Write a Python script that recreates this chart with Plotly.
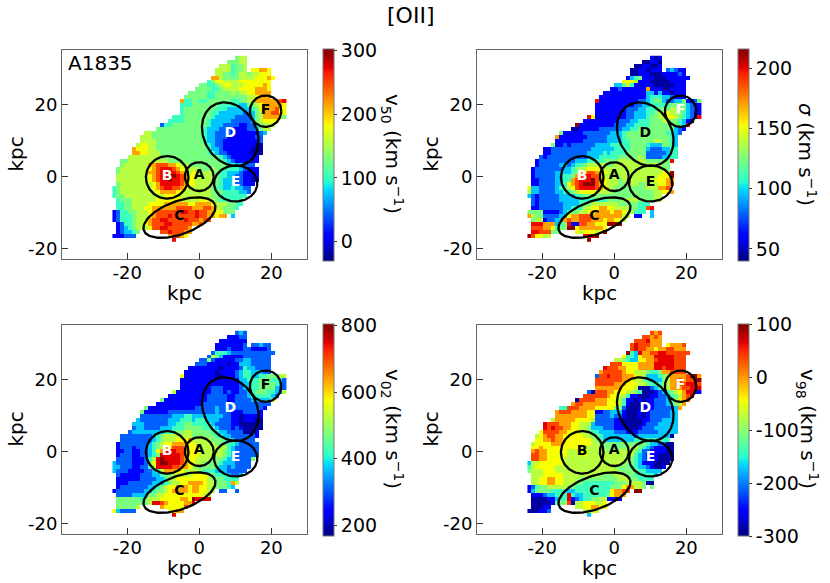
import numpy as np
import plotly.graph_objects as go

W, H = 830, 583

# cell codes -> value, one table per panel
codes = "0123456789RD"
v50_levels = [-20, 10, 43, 76, 102, 128, 155, 181, 214, 247, 270, 297]
sig_levels = [45, 61, 79, 96, 110, 124, 138, 152, 170, 187, 199, 213]
v02_levels = [186, 244, 307, 371, 422, 473, 524, 575, 639, 703, 748, 799]
v98_levels = [-288, -252, -212, -172, -140, -108, -76, -44, -4, 36, 64, 96]

# one string per map row, top row first ('.' = no data)
v50_rows = [
    ".......... .......... .......... .566",
    ".......... .......... .........5 5566",
    ".......... .......... .......666 4556",
    ".......... .......... ......6666 4556.77887",
    ".......... .......... ......6655 4566566777",
    ".......... .......... .....88655 5566667778 7",
    ".......... .......... ....457766 6677777777",
    ".......... .......... ..55445677 6667777787",
    ".......... .......... .555544566 6677778887",
    ".......... .........5 5555445555 6566778888",
    ".......... ........55 5555445555 5555667888",
    ".......... .......844 5544555555 4455668888 889R",
    ".......... .......444 5555555444 4433556788 8887",
    ".......... .......455 5555554443 3333345788 8977",
    ".......... .......455 5555544333 3332335688 9977",
    ".......... .....44455 5555543333 3222235688 8875",
    ".......... ....444455 5555433333 2222235677 77",
    ".......... ..24455555 5555433322 2211224566 6",
    ".......... .555555555 5554333222 1111223566",
    "........66 5555555555 5554332222 111111123.",
    ".......666 5555555555 5554332221 11111122..",
    ".......666 6555555555 5554332211 11111112..",
    "......6776 6555555555 5555432211 11111100..",
    ".....87776 6555555555 5555433211 11111000..",
    ".....88776 6655555555 5555443221 11111000..",
    "....666666 6655555555 5555555432 1111111...",
    "..55666666 6666555555 5555555543 2111111...",
    "..56666668 8999887665 5555555554 433222....",
    ".566666667 89RRR98766 6655565544 4432111...",
    ".566666668 89RRRR9876 7666665443 3321111...",
    ".666666667 89RRDDR987 7666665443 3221111...",
    ".666666667 89RRDRR987 7666665433 3221101...",
    ".566666666 78RRRRR987 7666665433 322111....",
    "4566666666 789RR99876 6666654433 43322.....",
    "4566666666 6788887766 6666655544 44332.....",
    "4556666666 6667777666 6666655444 4444......",
    ".455566666 6777777766 6677665444 444.......",
    ".445566667 7778888887 7888876665 544.......",
    ".445566677 8888889999 8889986655 54........",
    "1244556667 8999999RR9 9R99887755 5.........",
    "1244456667 8999R99999 9R99887 88. 3.........",
    "1244456668 99RR9999R9 99899.....",
    ".124456678 999RR99999 889.......",
    ".123456667 99RR999998 ..........",
    ".123345.... .99R99988. ..........",
    "111222.... ....89987. ..........",
    ".......... .....R....",
]

sig_rows = [
    ".......... .......... .......... .101",
    ".......... .......... .........0 0110",
    ".......... .......... .......001 1001",
    ".......... .......... ......0011 0111.23211",
    ".......... .......... ......0011 1000111121",
    ".......... .......... .....13451 1100011111 1",
    ".......... .......... ....777611 1000001111",
    ".......... .......... ..33564111 1100000111",
    ".......... .......... .112111111 8111001111",
    ".......... .........1 1111111111 3313110111",
    ".......... ........11 1111111111 3444332111",
    ".......... .......R11 1111111122 3455322335 1125",
    ".......... .......111 1111111223 3444445555 3211",
    ".......... .......111 1111122233 4445556655 3221",
    ".......... .......111 1111122333 4456676654 3211",
    ".......... .....R7111 1111122333 4556677654 321R",
    ".......... ....111111 1112223344 4555665543 10",
    ".......... ..D1111111 1122233444 4555555543 R",
    ".......... .001111122 2222334455 5555555321",
    "........51 1111222222 2333455555 555554432.",
    ".......811 1111122222 3333455555 55555543..",
    ".......111 1111222222 3333445555 55665543..",
    "......5112 1222222333 3444445555 43335543..",
    "....112222 2222223333 3344445555 32223344..",
    "....112222 2222233334 3444455555 22222344..",
    "...2122222 2222233344 4445555565 22223344..",
    "..12222222 2233344445 5556666566 555555R...",
    "..12222233 2344566666 5566666666 666655....",
    ".122222223 3456677766 6666666666 666655....",
    ".122222333 3458899877 6666666666 666677D...",
    ".122222334 4589RR9976 6566666666 666777D...",
    ".112222334 489RRRD987 6665666666 6677788...",
    ".112222334 789RDDD987 6665566655 6667789...",
    "7332222344 679RRRR987 6655555555 666889....",
    "6332222334 4567777666 6555555555 5566778...",
    "3212222233 3344555555 5555555555 5566......",
    ".212222233 3334444444 5555666655 5566......",
    ".212222223 3334556666 6665555544 4.........",
    ".112222223 3444667788 7766665544 9R........",
    "5555111123 4556677888 8788766444 .3........",
    "8655222233 7889998888 888866.11. .3........",
    ".566122338 9889998887 88776.....",
    ".RRR888345 R119988777 DDDD......",
    ".999887455 DD78888887 ..........",
    ".RR99955.. ..7677767D ..........",
    "D97766.... ....RRRD.. ..........",
    ".......... .....D....",
]

v02_rows = [
    ".......... .......... .......... .232",
    ".......... .......... .........1 1122",
    ".......... .......... .......111 1111",
    ".......... .......... ......1111 1112.22322",
    ".......... .......... ......1112 1112211112",
    ".......... .......... .....24443 2222222222 2",
    ".......... .......... ....265311 1112222222",
    ".......... .......... ..22521111 1223322222",
    ".......... .......... .222111110 1133322222",
    ".......... .........1 1111111011 1124332222",
    ".......... ........11 1111110111 1234433322",
    ".......... .......711 1111110011 1234433445 5566",
    ".......... .......111 1111111111 1133444555 4442",
    ".......... .......111 1111111111 1123344555 5432",
    ".......... .......111 1111122211 1123344555 5322",
    ".......... .....61111 1111122212 1122345554 4326",
    ".......... ....111111 1111222221 1222344444 32",
    ".......... ..51111111 1111222221 1222233333 7",
    ".......... .111111111 1112222222 2222222222",
    "........51 1111111111 1222223222 222222221.",
    ".......511 1111222222 2222223222 11122221..",
    ".......222 2222233344 3333333322 11011111..",
    "......3222 2222333444 3444333222 11011100..",
    ".....33322 2222334455 4444432222 11000000..",
    ".....23322 2233344455 5554443222 12100000..",
    "....233333 3334445566 5555544332 2220001...",
    "..22222222 3456666666 5555554433 2222221...",
    "..22222222 3456667778 6666655544 322222....",
    ".122222223 4567788887 7666665554 4322222...",
    ".122212223 4568899987 7766666664 3222222...",
    ".112211223 478RRR9987 7766666654 3222222...",
    ".122211223 45RRRRR987 7766666654 3222222...",
    ".222211124 6RDRRRR987 7666665543 322225....",
    "3222211125 7RDDRRR987 7665555433 32222.....",
    "3322211224 6RRRR99887 6555554332 32222.....",
    "3222111122 3468887766 6654443332 2222......",
    ".211111222 3345566666 7777654443 223.......",
    ".111111222 2334667777 7777655544 44........",
    ".111222222 3334566778 8887665554 86........",
    ".122222223 3456778887 8877665554 3.........",
    "1222222233 4556788887 887766.22. .2........",
    ".222233335 5667777777 77766.....",
    ".555555456 6677777887 DRRRR.....",
    ".555555556 RR98777788 R.........",
    ".555556... ..8777779. ..........",
    "732222.... ....7788.. ..........",
    ".......... .....R....",
]

v98_rows = [
    ".......... .......... .......... .989",
    ".......... .......... .........9 9898",
    ".......... .......... .......999 R888",
    ".......... .......... ......9R99 9888.78889",
    ".......... .......... ......9R99 8878899888",
    ".......... .......... .....D43R8 899RR99999 9",
    ".......... .......... ....744378 88RRRRR999",
    ".......... .......... ..66543377 889RRRR999",
    ".......... .......... .999777788 88RRRRR999",
    ".......... .........R 9998877788 88RR9RR999",
    ".......... ........89 9999877666 5445889999",
    ".......... .......299 R999888766 3334568888 9DD8",
    ".......... .......999 9999887665 4333568898 99DD",
    ".......... .......999 9988877766 5444568899 RRR9",
    ".......... .......888 8888777600 0234568889 9RRR",
    ".......... .....20999 8877766540 0012345678 RR11",
    ".......... ....999999 8776641100 0112234568 9R",
    ".......... ..09999888 7776411010 1122234578 9",
    ".......... .899888888 7776410001 1122234568",
    "........44 9998888777 7755200001 112222238.",
    ".......899 9888877112 2333100010 12222233..",
    ".......888 8888877222 2322100010 12222233..",
    "......6888 8877776222 2211000001 12223333..",
    "....R99988 8776663222 2211000001 22233333..",
    "....R9R998 8776653332 2211100012 22333333..",
    "...7999988 7776654433 3322211122 22233333..",
    "..67899887 7777665543 3333333233 3333330...",
    "..77889887 7777776543 3333333444 444444....",
    ".677778887 7777776655 5555555555 4332200...",
    ".778777777 7776666655 5555556654 3211100...",
    ".898877777 6667766666 5666666542 2111100...",
    ".998877767 6666766666 6666666432 1110000...",
    ".998877776 6666666666 6666665432 1110001...",
    "3667777776 6666666666 6666655431 110000....",
    "4677777666 6666666666 6655554433 21001.....",
    "5666777666 6666666666 6665555544 3333......",
    ".666777776 6666666655 5566655444 443.......",
    ".667788776 6665555555 5556665544 44........",
    ".667788776 6655444444 4455566665 00........",
    "1245566666 5544444444 4555788665 .5........",
    "1355554444 3344444444 478899.DD. ..........",
    ".111233444 R433444444 57888.....",
    ".000011344 R123445566 1101......",
    ".000001555 9066777667 ..........",
    ".00011.... ..66778877 ..........",
    "000112.... ....6676.. ..........",
    ".......... .....3....",
]

# regions: name, x, y, semi axes (kpc), tilt (deg)
regions = [
    ("A", 0.0, 0.0, 4.0, 4.0, 0),
    ("B", -8.9, -0.2, 5.9, 5.9, 0),
    ("C", -5.5, -11.4, 10.5, 4.6, 20),
    ("D", 8.6, 11.8, 9.3, 7.3, -60),
    ("E", 10.1, -1.9, 6.0, 5.0, 0),
    ("F", 18.4, 18.2, 4.35, 4.35, 0),
]

jet = [
    [0, "rgb(0,0,128)"], [0.11, "rgb(0,0,255)"], [0.125, "rgb(0,0,255)"],
    [0.34, "rgb(0,219,255)"], [0.375, "rgb(41,255,206)"], [0.64, "rgb(247,255,0)"],
    [0.66, "rgb(255,234,0)"], [0.89, "rgb(255,22,0)"], [0.91, "rgb(228,0,0)"],
    [1, "rgb(128,0,0)"],
]

panels = [
    dict(rows=v50_rows, levels=v50_levels, zmin=-30, zmax=302, ticks=[0, 100, 200, 300],
         title="v<sub>50</sub> (km s<sup>−1</sup>)", white="BDE", left=62, top=50),
    dict(rows=sig_rows, levels=sig_levels, zmin=40, zmax=216, ticks=[50, 100, 150, 200],
         title="<i>σ</i> (km s<sup>−1</sup>)", white="BF", left=477, top=50),
    dict(rows=v02_rows, levels=v02_levels, zmin=167, zmax=805, ticks=[200, 400, 600, 800],
         title="v<sub>02</sub> (km s<sup>−1</sup>)", white="BDE", left=62, top=325),
    dict(rows=v98_rows, levels=v98_levels, zmin=-300, zmax=100, ticks=[-300, -200, -100, 0, 100],
         title="v<sub>98</sub> (km s<sup>−1</sup>)", white="DEF", left=477, top=325),
]

PW, PH = 245, 209
FONT = "DejaVu Sans"
XR = [-38.1, 29.9]
YR = [-22.9, 35.2]
CELL = 1.1
X0, Y0 = -23.55, 33.05


def fx(px):
    return px / W


def fy(py):
    return 1 - py / H


def note(text, px, py, size, xanchor="center", angle=0):
    return dict(text=text, x=fx(px), y=fy(py), xref="paper", yref="paper", showarrow=False, textangle=angle,
                xanchor=xanchor, yanchor="middle", font=dict(family=FONT, size=size, color="black"))


def decode(rows, levels):
    z = []
    for row in rows:
        row = row.replace(" ", "").ljust(44, ".")[:44]
        z.append([levels[codes.index(c)] if c != "." else np.nan for c in row])
    return np.array(z, dtype=float)


fig = go.Figure()
layout = {}
notes = [note("[OII]", 410, 15, 22), note("A1835", 66, 63, 20, xanchor="left")]
for n, p in enumerate(panels, start=1):
    z = decode(p["rows"], p["levels"])
    xa, ya = f"x{n}", f"y{n}"
    xs = X0 + CELL * np.arange(z.shape[1])
    ys = Y0 - CELL * np.arange(z.shape[0])
    fig.add_trace(go.Heatmap(
        x=xs, y=ys, z=z, xaxis=xa, yaxis=ya, zmin=p["zmin"], zmax=p["zmax"],
        colorscale=jet, hoverongaps=False,
        colorbar=dict(
            x=fx(p["left"] + PW + 16), xanchor="left", xpad=0, y=fy(p["top"] - 1), yanchor="top", ypad=0,
            lenmode="pixels", len=PH + 3, thickness=11, outlinewidth=1, outlinecolor="#777",
            tickmode="array", tickvals=p["ticks"], ticktext=[str(t) for t in p["ticks"]],
            ticks="outside", ticklen=3, tickcolor="#333",
            tickfont=dict(family=FONT, size=19, color="black"),
        ),
    ))
    notes.append(note(p["title"], p["left"] + PW + 85, p["top"] + 104, 20, angle=90))
    notes.append(note("kpc", p["left"] + PW / 2, p["top"] + PH + 34, 20))
    notes.append(note("kpc", p["left"] - 47, p["top"] + PH / 2, 20, angle=-90))
    for name, cx, cy, a, b, tilt in regions:
        t = np.linspace(0, 2 * np.pi, 121)
        th = np.radians(tilt)
        ex = cx + a * np.cos(t) * np.cos(th) - b * np.sin(t) * np.sin(th)
        ey = cy + a * np.cos(t) * np.sin(th) + b * np.sin(t) * np.cos(th)
        fig.add_trace(go.Scatter(x=ex, y=ey, xaxis=xa, yaxis=ya, mode="lines",
                                 line=dict(color="black", width=2.3), hoverinfo="skip", showlegend=False))
    fig.add_trace(go.Scatter(
        x=[r[1] for r in regions], y=[r[2] + 0.2 for r in regions], xaxis=xa, yaxis=ya, mode="text",
        text=[f"<b>{r[0]}</b>" for r in regions],
        textfont=dict(family=FONT, size=14, color=["white" if r[0] in p["white"] else "black" for r in regions]),
        hoverinfo="skip", showlegend=False,
    ))
    tickv = [-20, 0, 20]
    common = dict(showgrid=False, zeroline=False, showline=True, mirror=True, linecolor="#666", linewidth=1,
                  ticks="inside", ticklen=6, tickcolor="#333", tickmode="array", tickvals=tickv,
                  ticktext=[str(t) for t in tickv], tickfont=dict(family=FONT, size=18, color="black"))
    layout[f"xaxis{n}"] = dict(common, domain=[fx(p["left"]), fx(p["left"] + PW)], range=XR, anchor=ya,
                               ticklabelstandoff=-3)
    layout[f"yaxis{n}"] = dict(common, domain=[fy(p["top"] + PH), fy(p["top"])], range=YR, anchor=xa)

fig.update_layout(
    width=W, height=H, margin=dict(l=0, r=0, t=0, b=0), paper_bgcolor="white", plot_bgcolor="white",
    showlegend=False, annotations=notes, **layout,
)

# drop the page's default body margin so the figure sits at the window corner
fig.write_html("out.html", config={"displayModeBar": False},
               post_script="document.body.style.margin = '0';")
